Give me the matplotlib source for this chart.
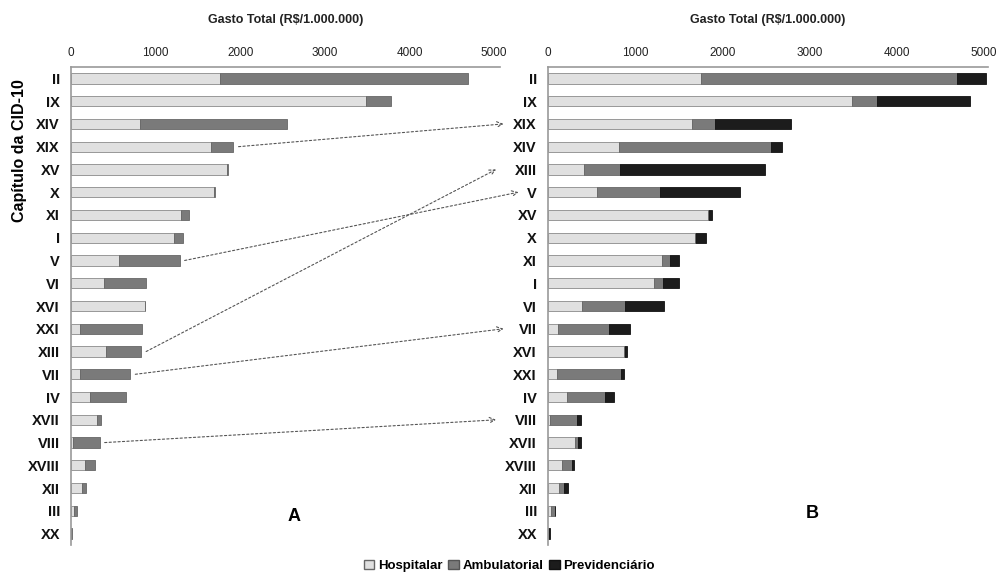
import numpy as np
import matplotlib
matplotlib.use("Agg")
from matplotlib import pyplot as plt
from matplotlib.patches import ConnectionPatch, Patch

plt.rcParams['font.family'] = ['Liberation Sans', 'DejaVu Sans']

# ---- data (R$/1.000.000) ----
chapters = ["II", "IX", "XIX", "XIV", "XIII", "V", "XV", "X", "XI", "I", "VI",
            "VII", "XVI", "XXI", "IV", "VIII", "XVII", "XVIII", "XII", "III", "XX"]
hospitalar = [1760, 3490, 1655, 812, 418, 568, 1840, 1690, 1305, 1220, 385,
              110, 870, 102, 222, 18, 305, 162, 130, 35, 5]
ambulatorial = [2930, 290, 265, 1745, 410, 715, 10, 10, 92, 100, 500,
                590, 10, 735, 430, 320, 45, 118, 50, 40, 10]
previdenciario = [340, 1060, 870, 130, 1660, 915, 30, 110, 110, 180, 450,
                  240, 25, 40, 110, 40, 25, 20, 45, 10, 10]

# ranking in panel A (hospitalar + ambulatorial) and panel B (total)
order_A = ["II", "IX", "XIV", "XIX", "XV", "X", "XI", "I", "V", "VI", "XVI",
           "XXI", "XIII", "VII", "IV", "XVII", "VIII", "XVIII", "XII", "III", "XX"]
order_B = chapters
moved = ["XIX", "V", "XIII", "VII", "VIII"]

C_HOSP = "#e0e0e0"
C_AMB = "#7a7a7a"
C_PREV = "#1c1c1c"

idx = {c: i for i, c in enumerate(chapters)}

fig = plt.figure(figsize=(9.99, 5.77), dpi=100)
axA = fig.add_axes([71 / 999, 1 - 545 / 577, 429 / 999, 478 / 577])
axB = fig.add_axes([548 / 999, 1 - 545 / 577, 440 / 999, 478 / 577])


def style(ax, xmax):
    ax.set_xlim(0, xmax)
    ax.set_ylim(20.5, -0.5)
    ax.xaxis.tick_top()
    ax.xaxis.set_label_position("top")
    ax.set_xticks([0, 1000, 2000, 3000, 4000, 5000])
    ax.tick_params(axis="x", length=0, labelsize=8.5, pad=6, colors="#222")
    ax.tick_params(axis="y", length=0, labelsize=10.5, pad=8, colors="#111")
    for lbl in ax.get_yticklabels():
        lbl.set_fontweight("bold")
    for s in ["right", "bottom"]:
        ax.spines[s].set_visible(False)
    for s in ["top", "left"]:
        ax.spines[s].set_color("#999999")
        ax.spines[s].set_linewidth(1.2)
    ax.set_xlabel("Gasto Total (R$/1.000.000)", fontsize=9, fontweight="bold",
                  labelpad=17, color="#222")


# Panel A
yA = np.arange(len(order_A))
hA = [hospitalar[idx[c]] for c in order_A]
aA = [ambulatorial[idx[c]] for c in order_A]
bh = 0.45
axA.barh(yA, hA, height=bh, color=C_HOSP, edgecolor="#8a8a8a", linewidth=0.6)
axA.barh(yA, aA, left=hA, height=bh, color=C_AMB, edgecolor="#666666", linewidth=0.6)
axA.set_yticks(yA)
axA.set_yticklabels(order_A)
style(axA, 5070)
axA.set_ylabel("Capítulo da CID-10", fontsize=11.5, fontweight="bold")
axA.yaxis.set_label_coords(-0.103, 0.825)
axA.text(0.52, 0.06, "A", transform=axA.transAxes, fontsize=13, fontweight="bold",
         ha="center", va="center")

# Panel B
yB = np.arange(len(order_B))
hB = np.array([hospitalar[idx[c]] for c in order_B])
aB = np.array([ambulatorial[idx[c]] for c in order_B])
pB = np.array([previdenciario[idx[c]] for c in order_B])
axB.barh(yB, hB, height=bh, color=C_HOSP, edgecolor="#8a8a8a", linewidth=0.6)
axB.barh(yB, aB, left=hB, height=bh, color=C_AMB, edgecolor="#666666", linewidth=0.6)
axB.barh(yB, pB, left=hB + aB, height=bh, color=C_PREV, edgecolor="#111111", linewidth=0.6)
axB.set_yticks(yB)
axB.set_yticklabels(order_B)
style(axB, 5050)
axB.text(0.60, 0.065, "B", transform=axB.transAxes, fontsize=13, fontweight="bold",
         ha="center", va="center")

# dotted arrows: rank change from A to B
for c in moved:
    ia = order_A.index(c)
    ib = order_B.index(c)
    x0 = hospitalar[idx[c]] + ambulatorial[idx[c]] + 60
    xb = -0.05 - 0.017 * len(c)
    con = ConnectionPatch(xyA=(x0, ia), coordsA=axA.transData,
                          xyB=(xb, ib), coordsB=axB.get_yaxis_transform(),
                          arrowstyle="->", linestyle=(0, (2, 2)), color="#555555",
                          linewidth=0.8, mutation_scale=10)
    fig.add_artist(con)

handles = [Patch(facecolor=C_HOSP, edgecolor="#666666", label="Hospitalar"),
           Patch(facecolor=C_AMB, edgecolor="#555555", label="Ambulatorial"),
           Patch(facecolor=C_PREV, edgecolor="#111111", label="Previdenciário")]
leg = fig.legend(handles=handles, loc="lower center", bbox_to_anchor=(0.51, -0.012),
                 ncol=3, frameon=False, fontsize=9.5, handlelength=0.8,
                 handleheight=0.7, handletextpad=0.3, columnspacing=0.4)
for t in leg.get_texts():
    t.set_fontweight("bold")

fig.savefig("out.png", dpi=100)
